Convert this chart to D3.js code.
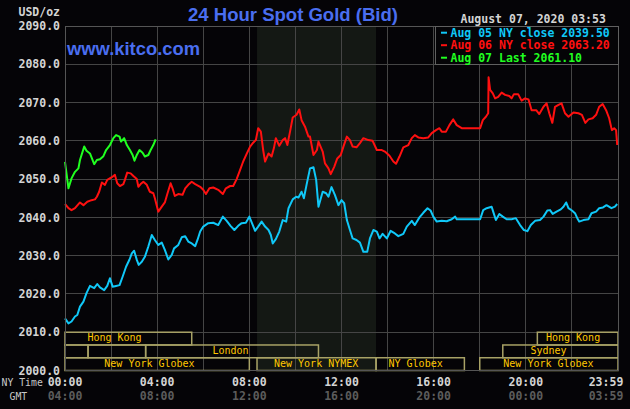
<!DOCTYPE html>
<html><head><meta charset="utf-8">
<script src="https://cdn.jsdelivr.net/npm/d3@7"></script>
<style>html,body{margin:0;padding:0;background:#050407;overflow:hidden}svg{display:block}</style>
</head><body><svg id="c" width="630" height="409"></svg>
<script>
// ---------- DATA ----------
const yTicks = [2000,2010,2020,2030,2040,2050,2060,2070,2080,2090];
const gridMinutes = [0,120,240,360,480,600,720,840,960,1080,1200,1320,1440];
const nyTimeTicks = [0,240,480,720,960,1200,1439];
const nyTimeLabels = ["00:00","04:00","08:00","12:00","16:00","20:00","23:59"];
const gmtLabels = ["04:00","08:00","12:00","16:00","20:00","00:00","03:59"];

// Aug 05 (cyan), minutes after NY midnight and price
const aug05Minutes = [0,9,17,26,32,39,48,56,65,76,84,91,102,110,117,124,133,142,150,159,168,174,180,187,192,200,208,217,226,234,243,252,260,269,278,284,295,304,313,321,330,339,345,352,360,373,386,399,411,421,431,441,451,460,471,480,489,495,503,512,521,530,536,541,549,558,567,576,582,593,602,608,616,622,629,
  638,647,654,660,671,680,686,694,703,712,720,727,734,742,749,759,768,777,787,794,803,812,819,827,838,848,859,868,881,890,903,911,923,933,944,952,959,968,981,994,1007,1016,1020,1081,1089,1098,1111,1115,1122,1131,1140,1150,1163,1174,1185,1195,1204,1213,1224,1237,1246,1256,1263,1270,1280,1291,1298,1305,1311,1320,1328,1334,1339,1350,1363,1371,1383,1391,1401,1410,1423,1432,1438];
const aug05Values = [2013.6,2012.3,2012.8,2014.1,2014.5,2016.7,2018.0,2020.2,2022.1,2021.5,2022.6,2021.7,2021.0,2022.1,2024.1,2021.9,2022.1,2022.3,2024.5,2027.1,2029.0,2030.6,2031.3,2028.9,2027.6,2028.4,2029.7,2032.4,2035.4,2034.1,2032.8,2033.4,2031.5,2029.0,2030.2,2031.9,2032.8,2034.8,2035.1,2033.7,2033.2,2032.5,2034.1,2036.3,2037.6,2038.5,2038.6,2038.0,2040.2,2039.1,2037.8,2036.7,2037.8,2038.5,2038.6,2040.2,2038.0,2036.5,2037.6,2038.9,2037.6,2036.7,2035.4,2033.2,2034.3,2036.3,2039.3,2038.9,2042.4,2044.7,2045.4,2045.2,2046.7,2045.0,2048.5,
  2052.8,2053.1,2049.8,2042.8,2046.7,2046.3,2045.4,2047.9,2045.8,2043.2,2044.5,2043.7,2039.3,2036.7,2034.5,2034.1,2033.4,2031.0,2031.0,2034.5,2036.7,2036.3,2034.5,2035.7,2034.5,2036.5,2035.8,2035.1,2035.7,2037.6,2039.1,2038.0,2040.0,2041.2,2042.4,2041.8,2040.2,2038.9,2039.1,2039.0,2039.5,2040.2,2039.5,2039.5,2041.9,2042.4,2042.8,2041.5,2039.3,2040.9,2040.2,2039.5,2039.5,2039.8,2038.0,2036.7,2036.4,2038.0,2039.1,2039.3,2040.2,2041.8,2041.9,2040.9,2041.5,2042.1,2042.8,2043.9,2042.4,2041.8,2041.1,2039.8,2038.9,2039.3,2039.5,2041.1,2041.5,2042.4,2042.6,2043.2,2042.4,2042.8,2043.5];

// Aug 06 (red)
const aug06Minutes = [0,9,17,26,39,48,58,69,78,83,89,96,104,110,122,130,136,143,152,156,162,171,178,187,191,197,204,213,221,230,234,243,252,260,267,275,280,286,295,306,313,321,330,339,352,360,367,376,386,399,411,419,430,438,447,456,464,473,482,490,497,503,510,516,521,530,538,544,549,558,567,573,579,586,593,603,610,616,625,634,
  638,647,656,660,671,677,686,692,701,709,718,725,734,742,749,759,768,777,790,801,812,825,833,845,855,862,871,881,894,903,911,920,933,946,955,966,975,981,992,1001,1011,1020,1033,1055,1081,1088,1096,1102,1103,1107,1114,1120,1128,1137,1146,1157,1163,1169,1180,1189,1198,1207,1215,1227,1235,1246,1254,1261,1269,1276,1285,1293,1302,1311,1324,1337,1346,1355,1363,1374,1383,1391,1400,1409,1417,1424,1430,1435,1438];
const aug06Values = [2043.5,2042.4,2041.9,2042.4,2043.9,2043.2,2044.1,2044.5,2044.7,2045.4,2046.7,2049.1,2048.5,2049.8,2050.5,2051.1,2048.9,2048.2,2048.7,2049.8,2051.7,2051.5,2050.8,2050.0,2048.0,2048.7,2049.3,2048.5,2046.7,2046.3,2045.0,2041.5,2042.8,2043.9,2046.3,2048.9,2047.6,2045.6,2046.1,2045.9,2047.6,2048.5,2049.3,2048.7,2048.0,2047.2,2046.1,2047.6,2047.8,2047.2,2046.1,2047.6,2048.2,2048.2,2050.0,2052.4,2054.6,2056.6,2058.5,2059.5,2060.2,2063.3,2062.4,2057.6,2054.6,2056.7,2055.9,2058.1,2060.7,2058.7,2060.2,2060.7,2058.9,2062.4,2066.1,2066.8,2068.2,2065.4,2063.7,2061.1,
  2061.1,2056.3,2057.6,2059.8,2057.2,2054.1,2052.8,2051.3,2053.2,2055.4,2056.3,2058.5,2061.1,2060.2,2058.5,2058.3,2059.4,2060.7,2060.2,2060.0,2057.6,2057.6,2057.2,2056.1,2054.6,2054.0,2055.9,2058.3,2058.9,2060.7,2061.5,2060.9,2060.7,2060.9,2062.0,2062.8,2063.3,2062.4,2062.4,2064.1,2065.6,2064.1,2063.3,2063.3,2063.3,2065.4,2066.3,2067.2,2076.6,2073.3,2072.4,2071.1,2071.5,2072.6,2072.0,2071.7,2071.1,2072.2,2072.2,2070.5,2071.1,2070.8,2068.0,2068.0,2067.0,2068.9,2069.8,2067.2,2064.7,2068.9,2069.4,2069.8,2067.2,2066.3,2067.4,2067.2,2066.8,2064.7,2065.6,2065.9,2066.8,2068.9,2069.6,2068.0,2065.9,2062.8,2063.3,2062.8,2058.9];

// Aug 07 (green)
const aug07Minutes = [0,9,17,26,35,39,50,56,65,76,83,91,100,107,117,126,133,142,146,154,161,169,176,181,187,194,202,208,217,223,230,236];
const aug07Values = [2054.5,2047.6,2050.2,2051.9,2052.8,2055.0,2058.5,2057.4,2056.7,2053.9,2055.0,2055.2,2056.0,2057.6,2058.9,2060.7,2061.5,2061.1,2059.8,2060.7,2058.9,2057.6,2056.3,2054.8,2056.3,2057.6,2056.9,2055.9,2056.3,2057.6,2058.9,2060.4];

const seriesNames = ["Aug 05 NY close 2039.50","Aug 06 NY close 2063.20","Aug 07 Last 2061.10"];
const seriesColors = ["#10c8f8","#ff1010","#20ff20"];

// Trading sessions
const sessionNames = ["Hong Kong","Hong Kong","","","London","Sydney","New York Globex","New York NYMEX","NY Globex","New York Globex"];
const sessionRows  = [0,0,1,1,1,1,2,2,2,2];
const sessionStart = [0,1230,0,60,210,1140,0,500,810,1080];
const sessionEnd   = [330,1440,60,210,660,1440,480,810,1040,1440];
const sessionLabelAt = [129,1323,0,0,431,1259,220,654,913,1259];
const nymexShade = [500,810];

// ---------- LAYOUT ----------
const W = 630, H = 409;
const M = {left:65, right:618, top:26, bottom:370.5};
const svg = d3.select("#c");
const x = d3.scaleLinear().domain([0,1440]).range([M.left,M.right]);
const y = d3.scaleLinear().domain([2000,2090]).range([M.bottom,M.top]);
const mono = "'DejaVu Sans Mono', monospace";

svg.append("rect").attr("width",W).attr("height",H).attr("fill","#050407");

// NYMEX shade
svg.append("rect").attr("x",x(nymexShade[0])).attr("y",M.top)
  .attr("width",x(nymexShade[1])-x(nymexShade[0])).attr("height",M.bottom-M.top)
  .attr("fill","#141814");

// grid
const gridColor = "#454545";
svg.append("g").selectAll("line").data(yTicks).join("line")
  .attr("x1",M.left).attr("x2",M.right).attr("y1",d=>y(d)).attr("y2",d=>y(d))
  .attr("stroke",gridColor).attr("stroke-width",1).attr("shape-rendering","crispEdges");
svg.append("g").selectAll("line").data(gridMinutes).join("line")
  .attr("y1",M.top).attr("y2",M.bottom).attr("x1",d=>x(d)).attr("x2",d=>x(d))
  .attr("stroke",gridColor).attr("stroke-width",1).attr("shape-rendering","crispEdges");

// y axis labels
const yAxis = d3.axisLeft(y).tickValues(yTicks).tickFormat(d3.format(".1f")).tickSize(0).tickPadding(5);
const ya = svg.append("g").attr("transform",`translate(${M.left},0)`).call(yAxis);
ya.select(".domain").remove();
ya.selectAll("text").attr("fill","#d4d4d4").attr("font-family",mono).attr("font-weight","bold").attr("font-size","11.5px");
svg.append("text").attr("x",M.left-5).attr("y",16).attr("text-anchor","end")
  .attr("fill","#d4d4d4").attr("font-family",mono).attr("font-weight","bold").attr("font-size","11.5px").text("USD/oz");

// session bars
const rowH = (y(2000)-y(2010))/3;
const sessColor = "#a8a266";
const sg = svg.append("g");
sessionNames.forEach((n,i)=>{
  const r = sessionRows[i];
  const y0 = y(2010) + r*rowH;
  sg.append("rect").attr("x",x(sessionStart[i])).attr("y",y0)
    .attr("width",x(sessionEnd[i])-x(sessionStart[i])).attr("height",rowH)
    .attr("fill","none").attr("stroke",sessColor).attr("stroke-width",1.5);
  if(n){
    sg.append("text").attr("x",x(sessionLabelAt[i])).attr("y",y0+rowH-3.5)
      .attr("text-anchor","middle").attr("fill","#ffc800")
      .attr("font-family",mono).attr("font-size","10px").text(n);
  }
});

// lines
const line = d3.line().x(d=>x(d[0])).y(d=>y(d[1]));
const seriesData = [
  d3.zip(aug05Minutes,aug05Values),
  d3.zip(aug06Minutes,aug06Values),
  d3.zip(aug07Minutes,aug07Values)
];
seriesData.forEach((s,i)=>{
  svg.append("path").datum(s).attr("d",line).attr("fill","none")
    .attr("stroke",seriesColors[i]).attr("stroke-width",2).attr("stroke-linejoin","round");
});

// plot border
svg.append("rect").attr("x",M.left).attr("y",M.top).attr("width",M.right-M.left).attr("height",M.bottom-M.top)
  .attr("fill","none").attr("stroke","#555").attr("stroke-width",1).attr("shape-rendering","crispEdges");

// legend box
const lg = svg.append("g");
lg.append("rect").attr("x",435).attr("y",y(2090)).attr("width",M.right-435).attr("height",y(2080)-y(2090))
  .attr("fill","#050407").attr("stroke","#606060").attr("stroke-width",1).attr("shape-rendering","crispEdges");
seriesNames.forEach((n,i)=>{
  const by = 36.7 + i*12.5;
  lg.append("line").attr("x1",441).attr("x2",447).attr("y1",by-4).attr("y2",by-4)
    .attr("stroke",seriesColors[i]).attr("stroke-width",2);
  lg.append("text").attr("x",450.5).attr("y",by).attr("fill",seriesColors[i])
    .attr("font-family",mono).attr("font-weight","bold").attr("font-size","11.5px").text(n);
});

// x labels
const xl = svg.append("g");
nyTimeTicks.forEach((t,i)=>{
  const cx = Math.min(x(t), W-24);
  xl.append("text").attr("x",cx).attr("y",385.5).attr("text-anchor","middle")
    .attr("fill","#d4d4d4").attr("font-family",mono).attr("font-weight","bold").attr("font-size","11.5px").text(nyTimeLabels[i]);
  xl.append("text").attr("x",cx).attr("y",400).attr("text-anchor","middle")
    .attr("fill","#5c5c5c").attr("font-family",mono).attr("font-weight","bold").attr("font-size","11.5px").text(gmtLabels[i]);
});
svg.append("text").attr("x",1.5).attr("y",385.5).attr("fill","#c8c8c8").attr("font-family",mono).attr("font-size","9.8px").text("NY Time");
svg.append("text").attr("x",9.5).attr("y",400).attr("fill","#c8c8c8").attr("font-family",mono).attr("font-size","9.8px").text("GMT");

// titles
svg.append("text").attr("x",293).attr("y",21).attr("text-anchor","middle").attr("fill","#4a6ef0")
  .attr("font-family","'Liberation Sans', Arial, sans-serif").attr("font-weight","bold").attr("font-size","19px")
  .attr("textLength",210).attr("lengthAdjust","spacingAndGlyphs").text("24 Hour Spot Gold (Bid)");
svg.append("text").attr("x",67).attr("y",55).attr("fill","#4a6ef0")
  .attr("font-family","'Liberation Sans', Arial, sans-serif").attr("font-weight","bold").attr("font-size","18.5px")
  .attr("textLength",133).attr("lengthAdjust","spacingAndGlyphs").text("www.kitco.com");
svg.append("text").attr("x",460.5).attr("y",22.5).attr("fill","#d4d4d4")
  .attr("font-family",mono).attr("font-weight","bold").attr("font-size","11.5px").text("August 07, 2020 03:53");
</script></body></html>
